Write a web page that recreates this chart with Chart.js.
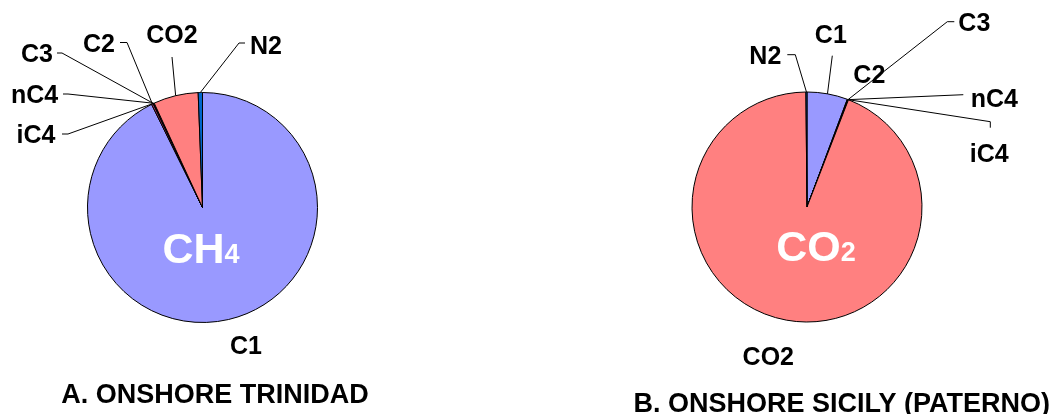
<!DOCTYPE html>
<html>
<head>
<meta charset="utf-8">
<script src="https://cdn.jsdelivr.net/npm/chart.js@4.4.1/dist/chart.umd.min.js"></script>
<style>
html, body { margin: 0; padding: 0; background: #fff; }
#wrap { position: relative; width: 1052px; height: 414px; overflow: hidden; }
.box { position: absolute; top: 0; width: 526px; height: 414px; }
</style>
</head>
<body>
<div id="wrap">
  <div class="box" style="left:0"><canvas id="pieA"></canvas></div>
  <div class="box" style="left:526px"><canvas id="pieB"></canvas></div>
</div>
<script>
// gas composition, percent
var categories = ['C1', 'C2', 'C3', 'nC4', 'iC4', 'CO2', 'N2'];
var trinidadValues = [92.7, 0.25, 0.08, 0.04, 0.03, 6.3, 0.6];
var sicilyValues = [5.7, 0.1, 0.03, 0.02, 0.02, 93.98, 0.15];
var sliceColors = ['#9999FF', '#993366', '#FFFFCC', '#CCFFFF', '#660066', '#FF8080', '#0066CC'];
var titleA = 'A. ONSHORE TRINIDAD';
var titleB = 'B. ONSHORE SICILY (PATERNO)';

var FONT = '"Liberation Sans", Arial, sans-serif';

// label placement, offsets from the pie centre (line = leader points before the slice edge)
var layoutA = {
  labels: {
    C1:  { dx: 43.5,   dy: 137.5 },
    C2:  { dx: -103.5, dy: -164.5, line: [[-82.5, -165], [-75.5, -165]] },
    C3:  { dx: -165.5, dy: -155,   line: [[-145.5, -154.5], [-140.5, -154.5]] },
    nC4: { dx: -168,   dy: -113.5, line: [[-139.5, -113.5], [-134.5, -113.5]] },
    iC4: { dx: -166.5, dy: -73.5,  line: [[-140.5, -73.5], [-134.5, -73.5]] },
    CO2: { dx: -30.5,  dy: -173.5, line: [[-30.5, -150.5]] },
    N2:  { dx: 63.5,   dy: -162.8, line: [[42.5, -164.5], [36.5, -164.5]] }
  },
  formula: ['CH', '4'], formulaPos: [-1.5, 55.5],
  title: titleA, titlePos: [12.5, 185.5]
};

var layoutB = {
  labels: {
    C1:  { dx: 23.8,  dy: -173.3, line: [[25.3, -151.3]] },
    C2:  { dx: 62.3,  dy: -133.3 },
    C3:  { dx: 167.3, dy: -184.8, line: [[147.3, -185.3], [140.3, -185.3]] },
    nC4: { dx: 187.3, dy: -109.3, line: [[156.3, -112.3]] },
    iC4: { dx: 182.3, dy: -54.3,  line: [[183.3, -79.3], [183.3, -85.3]] },
    CO2: { dx: -38.7, dy: 149.4 },
    N2:  { dx: -41.7, dy: -152.3, line: [[-19.7, -152.3], [-11.7, -152.3]] }
  },
  formula: ['CO', '2'], formulaPos: [9, 54.4],
  title: titleB, titlePos: [34.8, 195.7]
};

function gasLabels(cfg) {
  return {
    id: 'gasLabels',
    afterDatasetsDraw: function (chart) {
      var ctx = chart.ctx;
      var arcs = chart.getDatasetMeta(0).data;
      var cx = arcs[0].x, cy = arcs[0].y;
      var size = 25;
      ctx.save();
      ctx.strokeStyle = '#000';
      ctx.lineWidth = 1;
      ctx.fillStyle = '#000';
      ctx.font = 'bold ' + size + 'px ' + FONT;
      ctx.textAlign = 'center';
      ctx.textBaseline = 'alphabetic';
      categories.forEach(function (name, i) {
        var lab = cfg.labels[name];
        var p = arcs[i].getProps(['x', 'y', 'startAngle', 'endAngle', 'outerRadius'], true);
        var mid = (p.startAngle + p.endAngle) / 2;
        var ax = p.x + p.outerRadius * Math.cos(mid);
        var ay = p.y + p.outerRadius * Math.sin(mid);
        if (lab.line) {
          ctx.beginPath();
          lab.line.forEach(function (pt, k) {
            if (k === 0) ctx.moveTo(cx + pt[0], cy + pt[1]);
            else ctx.lineTo(cx + pt[0], cy + pt[1]);
          });
          ctx.lineTo(ax, ay);
          ctx.stroke();
        }
        ctx.fillText(name, cx + lab.dx, cy + lab.dy + 0.36 * size);
      });

      // big white formula inside the pie
      var big = 'bold 43px ' + FONT, sub = 'bold 27px ' + FONT;
      ctx.fillStyle = '#fff';
      ctx.textAlign = 'left';
      ctx.font = big;
      var w1 = ctx.measureText(cfg.formula[0]).width;
      ctx.font = sub;
      var w2 = ctx.measureText(cfg.formula[1]).width;
      var x0 = cx + cfg.formulaPos[0] - (w1 + w2) / 2;
      var by = cy + cfg.formulaPos[1];
      ctx.font = big;
      ctx.fillText(cfg.formula[0], x0, by);
      ctx.font = sub;
      ctx.fillText(cfg.formula[1], x0 + w1, by);

      // caption under the pie
      ctx.fillStyle = '#000';
      ctx.textAlign = 'center';
      ctx.font = 'bold 27px ' + FONT;
      ctx.fillText(cfg.title, cx + cfg.titlePos[0], cy + cfg.titlePos[1] + 0.36 * 27);
      ctx.restore();
    }
  };
}

function makePie(id, values, pad, cfg) {
  return new Chart(document.getElementById(id), {
    type: 'pie',
    data: {
      labels: categories,
      datasets: [{
        data: values,
        backgroundColor: sliceColors,
        borderColor: '#000',
        borderWidth: 1
      }]
    },
    options: {
      responsive: true,
      maintainAspectRatio: false,
      animation: false,
      radius: 115,
      layout: { padding: pad },
      plugins: {
        legend: { display: false },
        tooltip: { enabled: false },
        title: { display: false }
      }
    },
    plugins: [gasLabels(cfg)]
  });
}

var chartA = makePie('pieA', trinidadValues, { left: 0, right: 121, top: 1, bottom: 0 }, layoutA);
var chartB = makePie('pieB', sicilyValues, { left: 36, right: 0, top: 0, bottom: 0 }, layoutB);
</script>
</body>
</html>
